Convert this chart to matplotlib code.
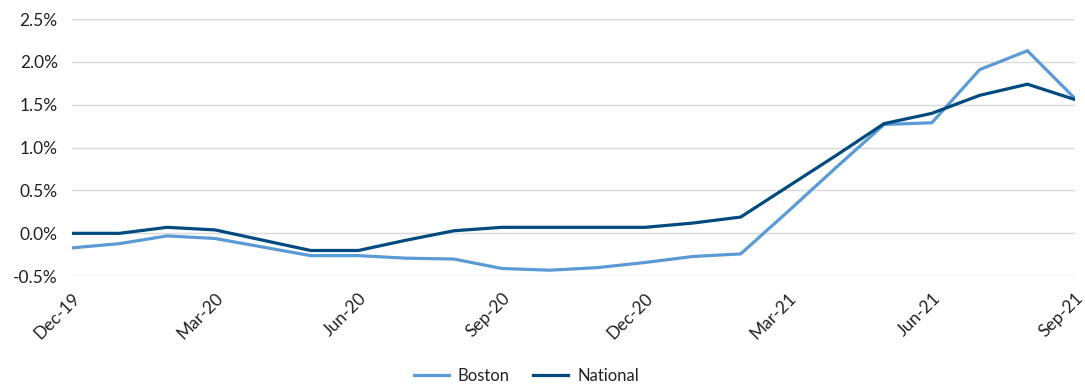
import numpy as np
import matplotlib.pyplot as plt
from matplotlib.ticker import FuncFormatter

plt.rcParams['font.family'] = ['Lato', 'DejaVu Sans']

# Monthly change, in percent, Dec-19 through Sep-21
months = ['Dec-19', 'Jan-20', 'Feb-20', 'Mar-20', 'Apr-20', 'May-20', 'Jun-20',
          'Jul-20', 'Aug-20', 'Sep-20', 'Oct-20', 'Nov-20', 'Dec-20', 'Jan-21',
          'Feb-21', 'Mar-21', 'Apr-21', 'May-21', 'Jun-21', 'Jul-21', 'Aug-21', 'Sep-21']
boston = [-0.17, -0.12, -0.03, -0.06, -0.16, -0.26, -0.26, -0.29, -0.30, -0.41, -0.43,
          -0.40, -0.34, -0.27, -0.24, 0.26, 0.77, 1.27, 1.29, 1.91, 2.13, 1.57]
national = [0.00, 0.00, 0.07, 0.04, -0.08, -0.20, -0.20, -0.08, 0.03, 0.07, 0.07,
            0.07, 0.07, 0.12, 0.19, 0.55, 0.91, 1.28, 1.40, 1.61, 1.74, 1.56]

x = np.arange(len(months))

fig = plt.figure(figsize=(10.85, 3.89), dpi=100)
ax = fig.add_axes([0.066, 0.29, 0.925, 0.661])

ax.plot(x, boston, color='#5b9bd5', lw=2.3, label='Boston', solid_joinstyle='miter')
ax.plot(x, national, color='#004a80', lw=2.3, label='National', solid_joinstyle='miter')

ax.set_ylim(-0.5, 2.5)
ax.set_yticks(np.arange(-0.5, 2.51, 0.5))
ax.yaxis.set_major_formatter(FuncFormatter(lambda v, _: f'{v:.1f}%'))
ax.set_xlim(0, len(months) - 1)
ax.set_xticks(x[::3])
ax.set_xticklabels(months[::3], rotation=45, ha='right', rotation_mode='anchor')

ax.grid(axis='y', color='#d9d9d9', lw=1)
ax.set_axisbelow(True)
for s in ax.spines.values():
    s.set_visible(False)
ax.tick_params(axis='both', length=0, labelsize=12.5, labelcolor='#222222')
ax.tick_params(axis='x', pad=10)
ax.tick_params(axis='y', pad=10)

fig.legend(loc='lower center', bbox_to_anchor=(0.485, -0.025), ncol=2, frameon=False,
           fontsize=12, handlelength=2.1, handletextpad=0.55, columnspacing=1.4,
           labelcolor='#222222')

fig.savefig('out.png', dpi=100)
